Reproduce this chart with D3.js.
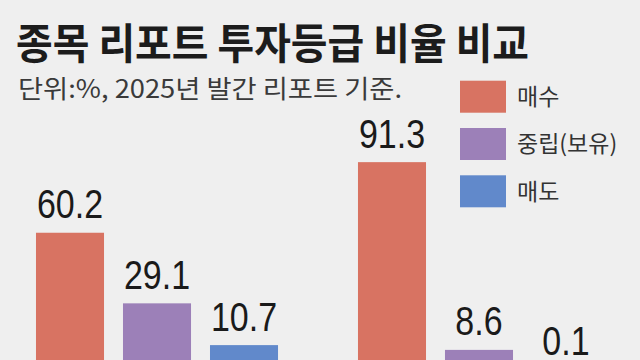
<!DOCTYPE html>
<html><head><meta charset="utf-8">
<script src="https://cdn.jsdelivr.net/npm/d3@7"></script>
<style>
html,body{margin:0;padding:0;background:#efefef;}
svg{display:block;}
</style></head>
<body><svg id="chart" width="640" height="360"></svg>
<script>
const title = "종목 리포트 투자등급 비율 비교";
const subtitle = "단위:%, 2025년 발간 리포트 기준.";
const groups = ["그룹1", "그룹2"];
const series = ["매수", "중립(보유)", "매도"];
const group1Values = [60.2, 29.1, 10.7];
const group2Values = [91.3, 8.6, 0.1];
const colors = ["#d87362", "#9c80b8", "#6189cb"];

const valuesByGroup = [group1Values, group2Values];
const data = groups.map((g, i) => ({group: g, values: series.map((s, j) => ({series: s, value: valuesByGroup[i][j]}))}));

const svg = d3.select("#chart");
svg.append("rect").attr("width", 640).attr("height", 360).attr("fill", "#efefef");

const x0 = d3.scaleBand().domain(groups).range([26.5, 609.5]).paddingInner(0.1894).paddingOuter(0);
const x1 = d3.scaleBand().domain(series).range([0, x0.bandwidth()]).paddingInner(0.218).paddingOuter(0.109);
const y = d3.scaleLinear().domain([0, 100]).range([369.4, 142.4]);
const color = d3.scaleOrdinal().domain(series).range(colors);

const g = svg.selectAll("g.grp").data(data).join("g").attr("class", "grp")
  .attr("transform", d => `translate(${x0(d.group)},0)`);

g.selectAll("rect").data(d => d.values).join("rect")
  .attr("x", d => x1(d.series))
  .attr("y", d => y(d.value))
  .attr("width", x1.bandwidth())
  .attr("height", d => y(0) - y(d.value))
  .attr("fill", d => color(d.series));

g.selectAll("text.val").data(d => d.values).join("text").attr("class", "val")
  .attr("transform", d => `translate(${x1(d.series) + x1.bandwidth() / 2},${y(d.value) - 14.5}) scale(0.85,1)`)
  .attr("text-anchor", "middle")
  .attr("font-family", "'Liberation Sans', Arial, sans-serif")
  .attr("font-size", 40)
  .attr("fill", "#1a1a1a")
  .text(d => d.value.toFixed(1));

svg.append("text").attr("x", 16).attr("y", 59)
  .attr("font-family", "'Noto Sans CJK KR', sans-serif").attr("font-weight", 700)
  .attr("font-size", 42).attr("fill", "#1c1c1c")
  .attr("textLength", 513).attr("lengthAdjust", "spacingAndGlyphs")
  .text(title);

svg.append("text").attr("x", 18).attr("y", 98)
  .attr("font-family", "'Noto Sans CJK KR', sans-serif").attr("font-weight", 400)
  .attr("font-size", 25).attr("fill", "#3a3a3a")
  .attr("textLength", 384).attr("lengthAdjust", "spacingAndGlyphs")
  .text(subtitle);

const legend = svg.selectAll("g.leg").data(series).join("g").attr("class", "leg")
  .attr("transform", (d, i) => `translate(460,${80.7 + i * 47.3})`);
legend.append("rect").attr("width", 46).attr("height", 32).attr("fill", d => color(d));
legend.append("text").attr("x", 57).attr("y", 16).attr("dy", "0.36em")
  .attr("font-family", "'Noto Sans CJK KR', sans-serif").attr("font-size", 23)
  .attr("fill", "#333").text(d => d);
</script></body></html>
